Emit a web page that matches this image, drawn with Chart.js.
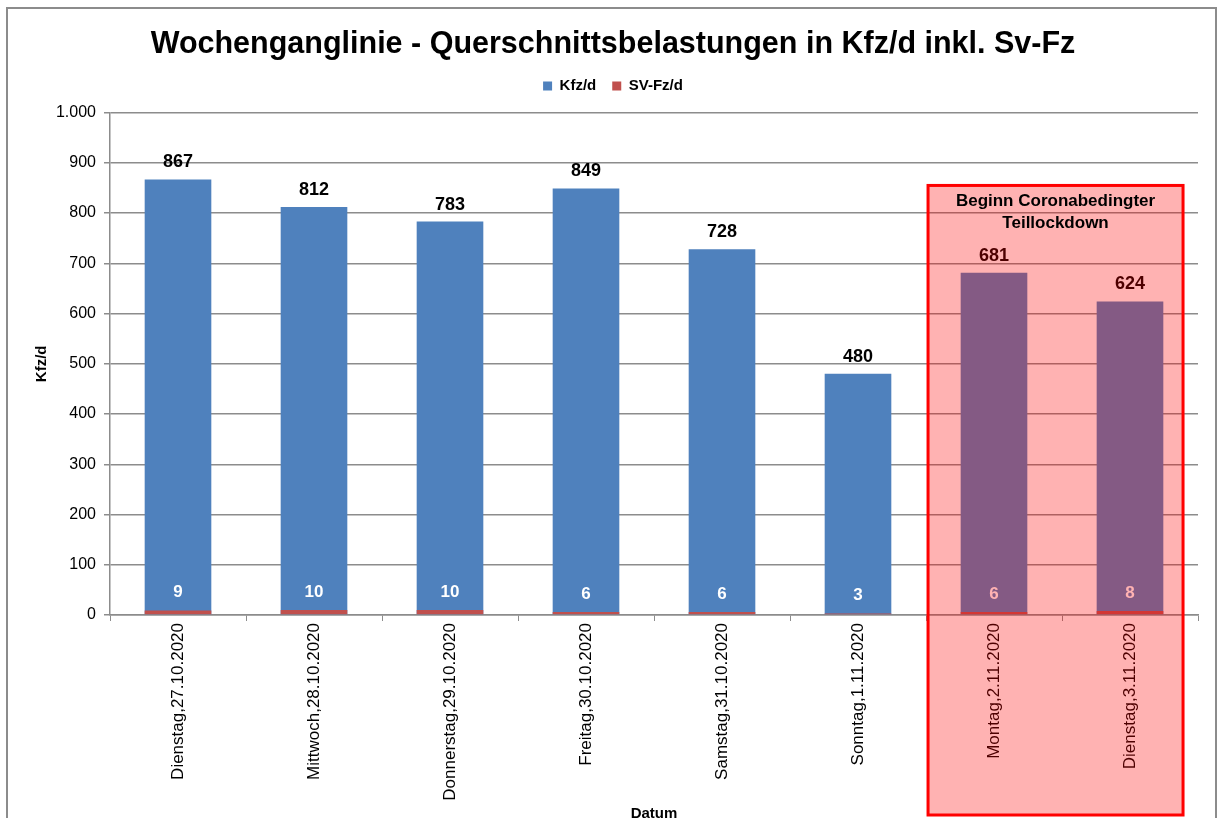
<!DOCTYPE html>
<html>
<head>
<meta charset="utf-8">
<title>Wochenganglinie</title>
<script src="https://cdn.jsdelivr.net/npm/chart.js@4/dist/chart.umd.min.js"></script>
<style>
    html, body { margin: 0; padding: 0; background: #fff; overflow: hidden; }
    #wrap { position: relative; width: 1222px; height: 818px; overflow: hidden; }
    #frame { position: absolute; left: 6px; top: 7px; width: 1211px; height: 900px;
             box-sizing: border-box; border: 2px solid #8c8c8c; pointer-events: none; }
    canvas { display: block; }
</style>
</head>
<body>
<div id="wrap">
    <canvas id="chart" width="1222" height="830"></canvas>
    <div id="frame"></div>
</div>
<script>
const labels = ['Dienstag,27.10.2020', 'Mittwoch,28.10.2020', 'Donnerstag,29.10.2020', 'Freitag,30.10.2020',
                'Samstag,31.10.2020', 'Sonntag,1.11.2020', 'Montag,2.11.2020', 'Dienstag,3.11.2020'];
const kfz = [867, 812, 783, 849, 728, 480, 681, 624];
const sv = [9, 10, 10, 6, 6, 3, 6, 8];
const yTicks = [0, 100, 200, 300, 400, 500, 600, 700, 800, 900, 1000];

// highlighted range (category indices) and its note
const lockdownFrom = 6;
const lockdownTo = 7;
const lockdownNote = ['Beginn Coronabedingter', 'Teillockdown'];

const FONT = "'Liberation Sans', Arial, sans-serif";
const GRID = '#8c8c8c';

function fmt(v) {
    return String(v).replace(/\B(?=(\d{3})+(?!\d))/g, '.');
}

// value labels above both series
const valueLabels = {
    id: 'valueLabels',
    afterDatasetsDraw(chart) {
        const ctx = chart.ctx;
        ctx.save();
        ctx.textAlign = 'center';
        ctx.textBaseline = 'middle';
        chart.data.datasets.forEach((ds, i) => {
            const meta = chart.getDatasetMeta(i);
            ctx.fillStyle = ds.labelColor;
            ctx.font = 'bold ' + ds.labelSize + 'px ' + FONT;
            meta.data.forEach((bar, j) => {
                ctx.fillText(ds.data[j], bar.x, bar.y - ds.labelOffset);
            });
        });
        ctx.restore();
    }
};

// translucent red box over the lockdown days
const lockdownBox = {
    id: 'lockdownBox',
    afterDraw(chart) {
        const x = chart.scales.x, y = chart.scales.y;
        const w = x.getPixelForValue(1) - x.getPixelForValue(0);
        const left = x.getPixelForValue(lockdownFrom) - w * 0.485;
        const right = x.getPixelForValue(lockdownTo) + w * 0.39;
        const top = y.getPixelForValue(855);
        const bottom = 815;
        const ctx = chart.ctx;
        ctx.save();
        ctx.fillStyle = 'rgba(255, 0, 0, 0.3)';
        ctx.fillRect(left, top, right - left, bottom - top);
        ctx.strokeStyle = '#ff0000';
        ctx.lineWidth = 3;
        ctx.strokeRect(left, top, right - left, bottom - top);
        ctx.fillStyle = '#000';
        ctx.font = 'bold 17px ' + FONT;
        ctx.textAlign = 'center';
        ctx.textBaseline = 'middle';
        lockdownNote.forEach((t, k) => ctx.fillText(t, (left + right) / 2, top + 16 + k * 22));
        ctx.restore();
    }
};

new Chart(document.getElementById('chart'), {
    type: 'bar',
    data: {
        labels: labels,
        datasets: [
            {
                label: 'Kfz/d',
                data: kfz,
                backgroundColor: '#4f81bd',
                order: 2,
                labelColor: '#000',
                labelSize: 18,
                labelOffset: 17
            },
            {
                label: 'SV-Fz/d',
                data: sv,
                backgroundColor: '#c0504d',
                order: 1,
                labelColor: '#fff',
                labelSize: 17,
                labelOffset: 18
            }
        ]
    },
    options: {
        responsive: false,
        animation: false,
        layout: { padding: { left: 28, right: 24, top: 0, bottom: 0 } },
        datasets: { bar: { categoryPercentage: 1, barPercentage: 0.49 } },
        plugins: {
            title: {
                display: true,
                text: 'Wochenganglinie - Querschnittsbelastungen in Kfz/d inkl. Sv-Fz',
                color: '#000',
                font: { family: FONT, size: 30.5, weight: 'bold' },
                padding: { top: 26, bottom: 0 }
            },
            legend: {
                display: true,
                weight: 1800,
                labels: {
                    color: '#000',
                    boxWidth: 9,
                    boxHeight: 9,
                    padding: 16,
                    font: { family: FONT, size: 15, weight: 'bold' },
                    sort: (a, b) => a.datasetIndex - b.datasetIndex
                }
            },
            // empty spacer between legend and plot
            subtitle: {
                display: true,
                text: '',
                font: { size: 1, lineHeight: 1 },
                padding: { top: 0, bottom: 8 }
            },
            tooltip: { enabled: false }
        },
        scales: {
            x: {
                stacked: true,
                grid: { drawOnChartArea: false, drawTicks: true, tickLength: 6, color: GRID, offset: true },
                border: { color: GRID, width: 1.5 },
                ticks: {
                    color: '#000',
                    minRotation: 90,
                    maxRotation: 90,
                    padding: 2,
                    font: { family: FONT, size: 17 }
                },
                title: {
                    display: true,
                    text: 'Datum',
                    color: '#000',
                    font: { family: FONT, size: 15, weight: 'bold' },
                    padding: { top: 0, bottom: 7 }
                },
                afterFit: (scale) => { scale.height = 215; }
            },
            y: {
                stacked: false,
                min: 0,
                max: 1000,
                afterBuildTicks: (scale) => { scale.ticks = yTicks.map(v => ({ value: v })); },
                grid: { color: GRID, lineWidth: 1.5, tickLength: 6 },
                border: { color: GRID, width: 1.5 },
                ticks: {
                    color: '#000',
                    padding: 8,
                    font: { family: FONT, size: 16 },
                    callback: (v) => fmt(v)
                },
                title: {
                    display: true,
                    text: 'Kfz/d',
                    color: '#000',
                    font: { family: FONT, size: 15, weight: 'bold' },
                    padding: { top: 5, bottom: 0 }
                },
                afterFit: (scale) => { scale.width = 82; }
            }
        }
    },
    plugins: [valueLabels, lockdownBox]
});
</script>
</body>
</html>
